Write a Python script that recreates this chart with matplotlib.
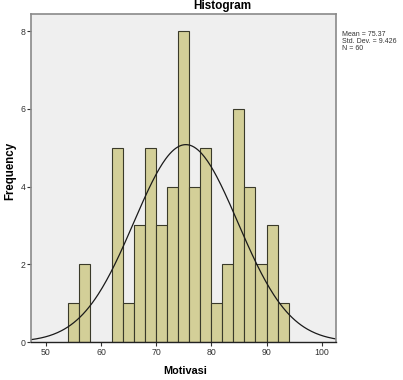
import numpy as np
import matplotlib
matplotlib.use('Agg')
import matplotlib.pyplot as plt

# histogram bins (width 2) and counts
bin_edges = [54, 56, 58, 60, 62, 64, 66, 68, 70, 72, 74, 76, 78, 80, 82, 84, 86, 88, 90, 92, 94]
counts = [1, 2, 0, 0, 5, 1, 3, 5, 3, 4, 8, 4, 5, 1, 2, 6, 4, 2, 3, 1]
mean = 75.37
sd = 9.426
n = 60
x_ticks = [50, 60, 70, 80, 90, 100]
y_ticks = [0, 2, 4, 6, 8]

plt.rcParams['font.family'] = ['Liberation Sans', 'DejaVu Sans']

fig = plt.figure(figsize=(4.03, 3.8), dpi=100)
ax = fig.add_axes([31/403, 1-342/380, 305/403, 328/380])
ax.set_facecolor('#efefef')

widths = np.diff(bin_edges)
ax.bar(bin_edges[:-1], counts, width=widths, align='edge',
       color='#d3cf98', edgecolor='#3a3a2a', linewidth=0.8)

# normal curve scaled to counts
xs = np.linspace(47.3, 102.6, 300)
bw = bin_edges[1] - bin_edges[0]
ys = n * bw / (sd * np.sqrt(2 * np.pi)) * np.exp(-0.5 * ((xs - mean) / sd) ** 2)
ax.plot(xs, ys, color='#1a1a1a', linewidth=0.9)

ax.set_xlim(47.3, 102.6)
ax.set_ylim(0, 8.44)
ax.set_xticks(x_ticks)
ax.set_yticks(y_ticks)
ax.tick_params(labelsize=6.3, length=3, width=0.8, pad=1, colors='#333333')

for s in ['top', 'right', 'left']:
    ax.spines[s].set_color('#8a8a8a')
    ax.spines[s].set_linewidth(1.2)
ax.spines['bottom'].set_color('#222222')
ax.spines['bottom'].set_linewidth(1.0)

fig.text(222/403, 1-9/380, 'Histogram', ha='center', va='baseline',
         fontsize=8.5, fontweight='bold')
fig.text(10/403, 1-171/380, 'Frequency', rotation=90, ha='center', va='center',
         fontsize=8.3, fontweight='bold')
fig.text(185/403, 1-371/380, 'Motivasi', ha='center', va='center',
         fontsize=7.8, fontweight='bold')
fig.text(342/403, 1-31/380, 'Mean = %.2f\nStd. Dev. = %.3f\nN = %d' % (mean, sd, n),
         ha='left', va='top', fontsize=5, linespacing=1.0, color='#333333')

fig.savefig('out.png', dpi=100)
